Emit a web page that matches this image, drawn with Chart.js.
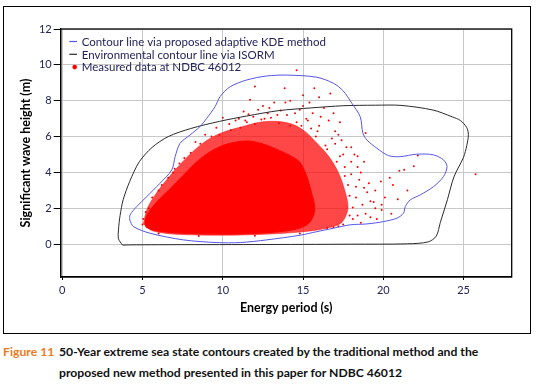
<!DOCTYPE html>
<html lang="en">
<head>
<meta charset="UTF-8">
<title>Figure 11</title>
<style>
    body {
        margin: 0;
        background: #fff;
        font-family: Lato, "Open Sans", sans-serif;
    }
    #frame {
        position: absolute;
        left: 2.5px;
        top: 5.5px;
        width: 528px;
        height: 328px;
        border: 1.5px solid #000;
        box-sizing: border-box;
    }
    #chart-box {
        position: absolute;
        left: 0;
        top: 0;
    }
    .caption {
        position: absolute;
        top: 341px;
        font-weight: bold;
        font-size: 12.2px;
        line-height: 21px;
        color: #111;
        white-space: nowrap;
    }
    #fig-no { left: 3px; color: #ee7a1e; }
    #fig-text { left: 59px; }
</style>
</head>
<body>
<div id="frame"></div>
<div id="chart-box">
    <canvas id="seaChart" width="538" height="334"></canvas>
</div>
<div class="caption" id="fig-no">Figure 11</div>
<div class="caption" id="fig-text">50-Year extreme sea state contours created by the traditional method and the<br>proposed new method presented in this paper for NDBC 46012</div>

<script src="https://cdn.jsdelivr.net/npm/chart.js"></script>
<script>
    const xTicks = [0, 5, 10, 15, 20, 25];
    const yTicks = [0, 2, 4, 6, 8, 10, 12];

    // contour via adaptive KDE (blue)
    const kdeContour = [
        [4.2, 1.35], [4.22, 1.63], [4.64, 2.1], [5.26, 2.65], [6.09, 3.4], [6.82, 4.14], [7.03, 4.88],
        [7.34, 5.63], [7.96, 6.09], [8.58, 6.56], [9.0, 7.02], [9.52, 7.67], [9.83, 8.23], [10.46, 8.78],
        [11.5, 9.16], [12.74, 9.38], [13.99, 9.43], [15.86, 9.31], [16.9, 8.97], [17.5, 8.55], [18.04, 7.86],
        [18.56, 7.11], [18.73, 6.19], [18.98, 5.81], [19.6, 5.35], [20.32, 4.94], [21.05, 4.88], [22.09, 5.02],
        [23.13, 4.98], [23.75, 4.7], [23.97, 4.33], [23.75, 3.77], [23.13, 3.21], [22.3, 2.75], [21.68, 2.47],
        [21.37, 2.1], [21.26, 1.73], [20.85, 1.45], [20.01, 1.26], [18.98, 1.13], [17.94, 1.08], [16.9, 0.89],
        [15.86, 0.7], [14.82, 0.5], [12.74, 0.24], [11.08, 0.09], [9.63, 0.09], [7.54, 0.24], [5.47, 0.61],
        [4.43, 0.98], [4.2, 1.35]
    ];

    // environmental contour via ISORM (black)
    const isormContour = [
        [3.75, -0.05], [3.5, 0.3], [3.5, 0.8], [3.6, 1.6], [3.8, 2.5], [4.2, 3.5], [4.8, 4.6], [5.6, 5.4],
        [6.6, 6.0], [8.0, 6.45], [9.8, 6.85], [11.5, 7.15], [13.5, 7.45], [15.5, 7.6], [17.5, 7.72],
        [19.5, 7.75], [21.1, 7.74], [23.1, 7.48], [24.3, 7.1], [24.8, 6.9], [25.2, 6.5], [25.3, 6.1],
        [25.2, 5.5], [25.0, 4.85], [24.4, 3.75], [24.0, 2.5], [23.55, 1.2], [23.3, 0.45], [22.8, 0.13],
        [21.5, 0.02], [18, 0], [12, -0.02], [6, -0.03], [4.2, -0.04], [3.75, -0.05]
    ];

    // outline of the solid part of the measured cloud
    const denseCore = [
        [5.15, 1.12], [5.25, 1.59], [5.87, 2.34], [6.7, 3.08], [7.53, 3.83], [8.36, 4.58], [9.19, 5.14],
        [10.02, 5.51], [10.85, 5.7], [11.68, 5.75], [12.51, 5.58], [13.34, 5.3], [14.17, 4.95], [14.79, 4.58],
        [15.21, 3.83], [15.52, 2.9], [15.73, 1.96], [15.41, 1.21], [14.58, 0.84], [12.93, 0.65], [10.44, 0.56],
        [7.32, 0.62], [5.87, 0.75], [5.25, 0.93], [5.15, 1.12]
    ];

    // outline of the speckled fringe round it
    const sparseZone = [
        [5.05, 1.15], [5.3, 2.0], [5.9, 2.9], [6.7, 3.8], [7.5, 4.6], [8.3, 5.3], [9.2, 5.9], [10.2, 6.3],
        [11.2, 6.55], [12.3, 6.8], [13.3, 6.85], [14.3, 6.7], [15.1, 6.3], [15.9, 5.6], [16.6, 4.9],
        [17.2, 4.0], [17.6, 3.0], [17.8, 2.0], [17.4, 1.2], [16.5, 0.9], [15.3, 0.72], [13, 0.57],
        [10, 0.5], [7, 0.56], [5.6, 0.75], [5.05, 1.15]
    ];

    // single measured points outside the cloud
    const measuredPoints = [
        [14.6, 9.7], [12.0, 8.8], [13.85, 8.7], [15.7, 8.7], [16.7, 8.4], [16.0, 8.2], [15.0, 8.3], [11.7, 8.05],
        [15.4, 7.9], [14.2, 8.0], [13.2, 7.9], [12.5, 7.7], [13.6, 7.45], [10.0, 7.05], [11.3, 7.4], [14.8, 7.5],
        [15.6, 7.3], [16.3, 7.6], [12.8, 7.3], [11.9, 7.1], [14.0, 7.2], [15.2, 7.0], [16.6, 6.9], [17.3, 6.8],
        [10.8, 6.9], [13.0, 7.05], [16.0, 6.6], [17.0, 6.3], [17.2, 6.1], [18.9, 6.2], [11.5, 6.8], [9.6, 6.5],
        [8.9, 6.1], [8.3, 5.7], [12.4, 6.95], [14.6, 6.8], [15.9, 6.3], [16.8, 5.9], [17.7, 5.4], [16.4, 5.5],
        [17.3, 4.9], [18.4, 4.3], [18.8, 3.15], [18.1, 2.05], [19.2, 2.4], [19.2, 1.5], [19.6, 1.4], [19.85, 3.5],
        [20.4, 3.7], [21.0, 4.1], [21.3, 4.15], [21.9, 4.35], [22.15, 4.95], [20.9, 2.5], [20.1, 2.6], [19.4, 2.35],
        [25.75, 3.9], [18.5, 3.6], [18.0, 4.6], [17.8, 3.3], [18.3, 2.6], [17.9, 1.6], [18.6, 1.2], [17.5, 1.1],
        [19.0, 2.9], [18.2, 5.0], [17.6, 4.3], [19.5, 3.0], [18.7, 2.2], [5.0, 1.1], [5.05, 1.4], [5.4, 2.0],
        [6.0, 0.6], [8.5, 0.45], [12, 0.47], [14.8, 0.6], [16.5, 0.9], [17.2, 1.0], [10.5, 6.35], [11.1, 6.5],
        [12.0, 6.7], [13.5, 6.75], [14.2, 6.6], [9.8, 6.1], [7.6, 4.8], [7.0, 4.2], [6.6, 3.7], [6.0, 3.0],
        [15.8, 6.0], [16.5, 5.3], [17.1, 4.6], [17.6, 3.8], [17.9, 2.7], [18.1, 1.4], [16.9, 0.95],
        [10.4, 6.7], [11.0, 7.0], [11.6, 7.25], [12.2, 7.5], [12.9, 7.6], [13.9, 7.9], [14.5, 7.3], [15.0, 7.7],
        [15.3, 6.9], [16.1, 7.1], [16.9, 7.3], [13.4, 7.2], [12.6, 7.0], [11.4, 6.9], [14.9, 6.6], [15.5, 6.45],
        [17.0, 5.6], [17.5, 5.0], [18.0, 5.4], [18.4, 4.9], [18.0, 3.9], [18.6, 4.0], [19.1, 3.4], [18.3, 3.2],
        [19.5, 2.0], [19.9, 2.2], [18.9, 1.7], [18.4, 1.6], [20.5, 1.7], [19.9, 1.9], [21.5, 3.0], [20.6, 3.3],
        [18.8, 4.6], [17.4, 5.8], [6.2, 3.3], [6.9, 4.0], [7.3, 4.5], [8.0, 5.1], [8.6, 5.6], [9.3, 6.0],
        [5.6, 2.6], [5.2, 1.8]
    ];

    const toXY = arr => arr.map(p => ({ x: p[0], y: p[1] }));

    Chart.defaults.font.family = 'Lato, "Open Sans", sans-serif';
    Chart.defaults.animation = false;

    // legend drawn inside the plot, top left
    const insideLegend = {
        id: 'insideLegend',
        afterDraw(chart) {
            const ctx = chart.ctx;
            const area = chart.chartArea;
            let row = 0;
            ctx.save();
            ctx.font = '11.5px Lato, "Open Sans", sans-serif';
            ctx.textBaseline = 'middle';
            chart.data.datasets.forEach(ds => {
                if (!ds.label) return;
                const y = area.top + 12.5 + row * 12.8;
                if (ds.showLine) {
                    ctx.strokeStyle = ds.borderColor;
                    ctx.lineWidth = 1.2;
                    ctx.beginPath();
                    ctx.moveTo(area.left + 8.6, y);
                    ctx.lineTo(area.left + 16.3, y);
                    ctx.stroke();
                } else {
                    ctx.fillStyle = ds.backgroundColor;
                    ctx.beginPath();
                    ctx.arc(area.left + 14, y, 2.3, 0, Math.PI * 2);
                    ctx.fill();
                }
                ctx.fillStyle = '#23235a';
                ctx.fillText(ds.label, area.left + 21, y + 0.5);
                row++;
            });
            // box round the plot
            ctx.strokeStyle = '#000';
            ctx.lineWidth = 1.3;
            ctx.strokeRect(area.left, area.top, area.right - area.left, area.bottom - area.top);
            ctx.restore();
        }
    };

    const ctx = document.getElementById('seaChart').getContext('2d');
    new Chart(ctx, {
        type: 'scatter',
        data: {
            datasets: [
                {
                    label: 'Contour line via proposed adaptive KDE method',
                    data: toXY(kdeContour),
                    showLine: true,
                    borderColor: '#5555e6',
                    borderWidth: 1,
                    pointRadius: 0,
                    tension: 0.3,
                    order: 0
                },
                {
                    label: 'Environmental contour line via ISORM',
                    data: toXY(isormContour),
                    showLine: true,
                    borderColor: '#2a2a2a',
                    borderWidth: 1,
                    pointRadius: 0,
                    tension: 0.3,
                    order: 1
                },
                {
                    label: 'Measured data at NDBC 46012',
                    data: toXY(measuredPoints),
                    showLine: false,
                    backgroundColor: '#ff0000',
                    borderWidth: 0,
                    pointRadius: 1,
                    order: 2
                },
                {
                    data: toXY(sparseZone),
                    showLine: true,
                    fill: 'shape',
                    backgroundColor: 'rgba(255, 0, 0, 0.72)',
                    borderColor: 'rgba(255, 0, 0, 0.45)',
                    borderWidth: 1,
                    pointRadius: 0,
                    tension: 0.3,
                    order: 3
                },
                {
                    data: toXY(denseCore),
                    showLine: true,
                    fill: 'shape',
                    backgroundColor: '#ff0000',
                    borderColor: '#ff0000',
                    borderWidth: 1,
                    pointRadius: 0,
                    tension: 0.3,
                    order: 4
                }
            ]
        },
        options: {
            responsive: false,
            layout: { padding: { left: 0, top: 29, right: 26.3, bottom: 0 } },
            plugins: {
                legend: { display: false },
                tooltip: { enabled: false }
            },
            scales: {
                x: {
                    type: 'linear',
                    min: -0.1,
                    max: 28,
                    afterBuildTicks: s => { s.ticks = xTicks.map(v => ({ value: v })); },
                    afterFit: s => { s.height = 57; },
                    grid: { color: '#c8c8c8', tickColor: '#000', tickLength: 3 },
                    border: { color: '#000', width: 1.3 },
                    ticks: { font: { size: 11 }, color: '#23235a', padding: 4, maxRotation: 0 },
                    title: {
                        display: true,
                        text: 'Energy period (s)',
                        color: '#000',
                        font: { size: 12.5, weight: 'bold' },
                        padding: { top: 0, bottom: 18.5 }
                    }
                },
                y: {
                    type: 'linear',
                    min: -1.83,
                    max: 12,
                    afterBuildTicks: s => { s.ticks = yTicks.map(v => ({ value: v })); },
                    afterFit: s => { s.width = 60.7; },
                    grid: { color: '#c8c8c8', tickColor: '#000', tickLength: 7 },
                    border: { color: '#000', width: 1.3 },
                    ticks: { font: { size: 11 }, color: '#23235a', padding: 2 },
                    title: {
                        display: true,
                        text: 'Significant wave height (m)',
                        color: '#000',
                        font: { size: 12.5, weight: 'bold' },
                        padding: { top: 18.8, bottom: 0 }
                    }
                }
            }
        },
        plugins: [insideLegend]
    });
</script>
</body>
</html>
